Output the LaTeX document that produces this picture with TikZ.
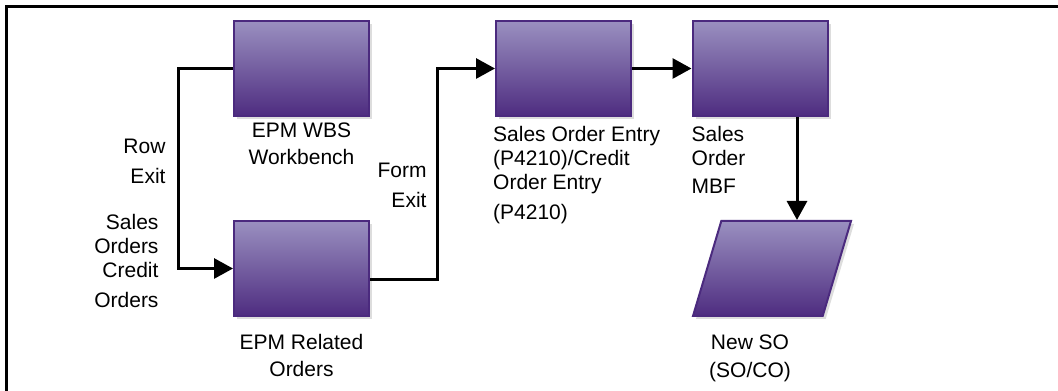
\documentclass[tikz,border=0pt]{standalone}
\usepackage{fontspec}
\setmainfont{Liberation Sans}
\usetikzlibrary{positioning,arrows.meta,shapes.geometric,shadows}
\definecolor{boxtop}{RGB}{154,144,192}
\definecolor{boxbot}{RGB}{78,44,128}
\definecolor{boxline}{RGB}{75,42,126}
\definecolor{boxshade}{RGB}{221,221,221}

\begin{document}
\begin{tikzpicture}[x=1pt,y=1pt,
		appbox/.style={draw=boxline, line width=2pt, top color=boxtop, bottom color=boxbot,
			minimum width=135pt, minimum height=95pt, inner sep=0pt,
			drop shadow={shadow xshift=3pt, shadow yshift=-3pt, fill=boxshade, opacity=1}},
		databox/.style={appbox, trapezium, trapezium left angle=74.4, trapezium right angle=105.6,
			trapezium stretches=true, minimum width=158pt, inner sep=2pt},
		lbl/.style={inner sep=0pt, align=center, font=\fontsize{21}{24}\selectfont},
		flow/.style={line width=3pt, -{Triangle[length=19pt,width=20pt]}}]
		\useasboundingbox (0,0) rectangle (1058,391);
		\draw[line width=3pt] (6.5,0) -- (6.5,384.5) -- (1058,384.5);
		\node[appbox] (WBS) at (301.5,322.5) {};
		\node[appbox] (Rel) at (301.5,122.5) {};
		\node[appbox] (SOE) at (563.5,322.5) {};
		\node[appbox] (MBF) at (760,322.5) {};
		\node[databox] (NSO) at (772,122.5) {};
		\node[lbl, below=5.5pt of WBS] {EPM WBS\\[3pt]Workbench};
		\node[lbl, below=17.5pt of Rel] {EPM Related\\[3pt]Orders};
		\node[lbl, align=left, below=9pt of SOE.south west, anchor=north west, xshift=-2pt] 
			{Sales Order Entry\\(P4210)/Credit\\Order Entry\\[6pt](P4210)};
		\node[lbl, align=left, below=9.5pt of MBF.south west, anchor=north west] {Sales\\Order\\[4pt]MBF};
		\node[lbl, below=17.5pt of NSO.south, xshift=-22pt] {New SO\\[4pt](SO/CO)};
		\coordinate[xshift=37pt] (drop) at (MBF.south);
		\draw[flow] (WBS.west) -- ++(-55,0) |- node[lbl, align=right, pos=0.231, left=11pt] {Row\\[6pt]Exit} 
			node[lbl, align=right, pos=0.481, left=18pt] {Sales\\Orders\\Credit\\[6pt]Orders} (Rel.west);
		\draw[flow] ([yshift=-11pt]Rel.east) -- ++(67,0) |- node[lbl, align=right, pos=0.224, left=9pt] 
			{Form\\[6pt]Exit} (SOE.west);
		\draw[flow] (SOE) -- (MBF);
		\draw[flow] (drop) -- (drop |- NSO.north);
	\end{tikzpicture}
\end{document}
